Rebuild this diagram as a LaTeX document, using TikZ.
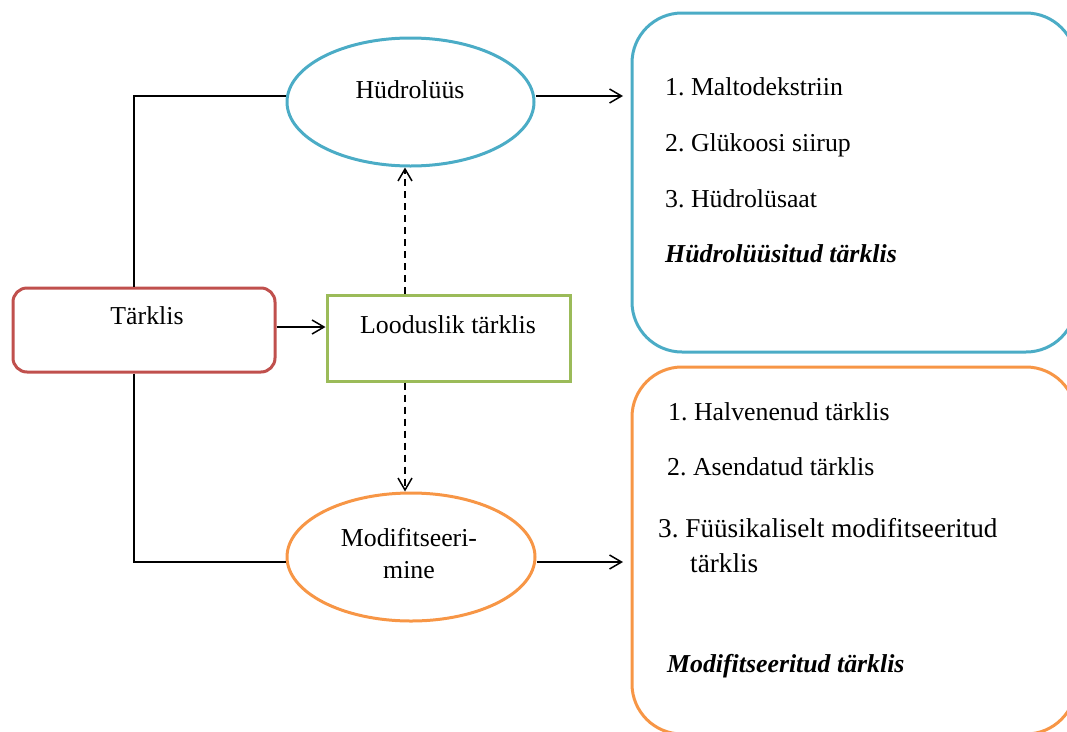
\documentclass[tikz,border=0pt]{standalone}
\usepackage{fontspec}
\setmainfont{Liberation Serif}
\usetikzlibrary{shapes.geometric,arrows.meta,calc}
\definecolor{cblue}{RGB}{75,172,198}
\definecolor{corange}{RGB}{247,150,70}
\definecolor{cred}{RGB}{192,80,77}
\definecolor{cgreen}{RGB}{155,187,89}
\frenchspacing
\begin{document}
\begin{tikzpicture}[x=1pt,y=-1pt,
  txt/.style={font=\fontsize{25.8}{31}\selectfont, inner sep=0pt, text=black},
  bigtxt/.style={font=\fontsize{27.2}{32}\selectfont, inner sep=0pt, text=black},
  shapebox/.style={line width=3pt, inner sep=0pt, fill=none},
  conn/.style={line width=1.5pt, draw=black},
  arr/.style={conn, -{Straight Barb[length=12pt,width=14pt,line width=1.5pt]}},
  darr/.style={arr, dash pattern=on 7pt off 5pt}]
\useasboundingbox (0,0) rectangle (1067,731);
\clip (0,0) rectangle (1067,731);

% shapes
\node[shapebox, draw=cred, rectangle, rounded corners=14pt, minimum width=262pt, minimum height=84pt] (tark) at (144,330) {};
\node[shapebox, draw=cgreen, rectangle, minimum width=243pt, minimum height=86pt] (lood) at (448.5,338) {};
\node[shapebox, draw=cblue, ellipse, minimum width=247pt, minimum height=128pt] (hyd) at (410.5,102) {};
\node[shapebox, draw=corange, ellipse, minimum width=248pt, minimum height=128pt] (mod) at (411,557) {};
\node[shapebox, draw=cblue, rectangle, rounded corners=50pt, minimum width=444pt, minimum height=339pt] (bbox) at (854,182.5) {};
\node[shapebox, draw=corange, rectangle, rounded corners=50pt, minimum width=444pt, minimum height=367pt] (obox) at (854,550.5) {};

% texts
\node[txt, anchor=base] (tarkt) at (147,324) {Tärklis};
\node[txt, anchor=base] (loodt) at (448,333) {Looduslik tärklis};
\node[txt, anchor=base] (hydt) at (410,98) {Hüdrolüüs};
\node[txt, anchor=base] (modt1) at (409,546) {Modifitseeri-};
\node[txt, anchor=base] (modt2) at (409,578) {mine};

\node[txt, anchor=base west] (b1) at (665,95) {1. Maltodekstriin};
\node[txt, anchor=base west] (b2) at (665,151) {2. Glükoosi siirup};
\node[txt, anchor=base west] (b3) at (665,207) {3. Hüdrolüsaat};
\node[txt, anchor=base west, font=\fontsize{25.8}{31}\selectfont\bfseries\itshape] (b4) at (665,262) {Hüdrolüüsitud tärklis};

\node[txt, anchor=base west] (o1) at (668,420) {1. Halvenenud tärklis};
\node[txt, anchor=base west] (o2) at (667,475) {2. Asendatud tärklis};
\node[bigtxt, anchor=base west] (o3) at (658,537) {3. Füüsikaliselt modifitseeritud};
\node[bigtxt, anchor=base west] (o3b) at (690,572) {tärklis};
\node[txt, anchor=base west, font=\fontsize{25.8}{31}\selectfont\bfseries\itshape] (o4) at (667,672) {Modifitseeritud tärklis};

% connectors
\draw[conn] ([xshift=-10pt]tark.north) |- ([yshift=6pt]hyd.west);
\draw[conn] ([xshift=-10pt]tark.south) |- ([yshift=-5pt]mod.west);
\coordinate (tka) at ([yshift=3pt]tark.east);
\draw[arr] (tka) -- (tka -| lood.west);
\coordinate (dx) at (405,0);
\draw[darr] (lood.north -| dx) -- (hyd.south -| dx);
\draw[darr] (lood.south -| dx) -- (mod.north -| dx);
\coordinate (hydend) at (623,96);
\coordinate (modend) at (623,562);
\draw[arr] ([yshift=6pt]hyd.east) -- (hydend);
\draw[arr] ([yshift=-5pt]mod.east) -- (modend);
\end{tikzpicture}
\end{document}
